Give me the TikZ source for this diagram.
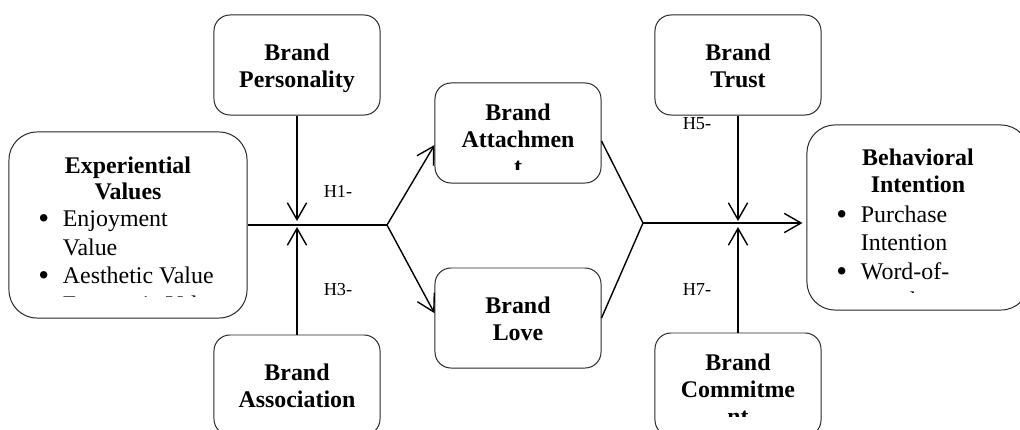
\documentclass[tikz,border=0pt]{standalone}
\usepackage{fontspec}
\setmainfont{Liberation Serif}
\usetikzlibrary{arrows.meta}
\newcommand{\bul}{\makebox[17.5pt][l]{\raisebox{-1.5pt}{\fontsize{22}{20}\selectfont\textbullet}}}
\newcommand{\bulgap}{\hspace*{17.5pt}}

\begin{document}
\begin{tikzpicture}[
  x=0.025cm,y=-0.025cm,
  box/.style={draw=black!85,line width=.7pt,rounded corners=.4cm,minimum width=4.15cm,minimum height=2.5cm,inner sep=0pt},
  bigbox/.style={box,rounded corners=.7cm},
  title/.style={anchor=north,align=center,inner sep=0pt,font=\fontsize{17}{19.2}\selectfont\bfseries},
  items/.style={anchor=north west,align=left,inner sep=0pt,font=\fontsize{17}{20.3}\selectfont},
  hyp/.style={inner sep=0pt,font=\fontsize{13}{15}\selectfont},
  conn/.style={line width=1pt},
  arr/.style={conn,-{Straight Barb[length=.42cm,width=.48cm]}}
]
\useasboundingbox (0,0) rectangle (1020,429);
\clip (0,0) rectangle (1020,429);

% boxes
\node[bigbox,minimum width=5.95cm,minimum height=4.65cm] (exp) at (128,225) {};
\node[box] (pers) at (297,65) {};
\node[box] (assoc) at (297,385) {};
\node[box] (att) at (518,133) {};
\node[box] (love) at (518,318) {};
\node[box] (trust) at (738,65) {};
\node[box,minimum height=2.575cm] (comm) at (738,384.5) {};
\node[bigbox,minimum width=5.55cm,minimum height=4.625cm] (beh) at (918,217.5) {};

% texts; the overflowing ones are cut by the text area
\begin{scope}
  \clip ([yshift=.55cm]exp.south west) rectangle (exp.north east);
  \node[title,font=\fontsize{17}{18.3}\selectfont\bfseries] (exp-t) at (128,156.5) {Experiential\\Values};
  \node[items] (exp-i) at (38,210.5) {\bul Enjoyment\\\bulgap Value\\\bul Aesthetic Value\\\bul Economic Value};
\end{scope}
\node[title] (pers-t) at (297,43.5) {Brand\\Personality};
\node[title] (assoc-t) at (297,363.5) {Brand\\Association};
\begin{scope}
  \clip ([yshift=.35cm]att.south west) rectangle (att.north east);
  \node[title] (att-t) at (518,103.5) {Brand\\Attachmen\\t};
\end{scope}
\node[title] (love-t) at (518,296.5) {Brand\\Love};
\node[title] (trust-t) at (738,43.5) {Brand\\Trust};
\begin{scope}
  \clip ([yshift=.5cm]comm.south west) rectangle (comm.north east);
  \node[title] (comm-t) at (738,353.5) {Brand\\Commitme\\nt};
\end{scope}
\begin{scope}
  \clip ([yshift=.45cm]beh.south west) rectangle (beh.north east);
  \node[title] (beh-t) at (918,148.5) {Behavioral\\Intention};
  \node[items] (beh-i) at (836,205.5) {\bul Purchase\\\bulgap Intention\\\bul Word-of-\\\bulgap mouth};
\end{scope}

% paths
\coordinate (j1) at (387,225);
\coordinate (j2) at (643,223);
\draw[conn] (exp.east) -- (j1);
\draw[arr] (j1) -- ([yshift=-.3cm]att.west);
\draw[arr] (j1) -- ([yshift=.12cm]love.west);
\draw[arr,shorten >=.1cm] (pers.south) -- (pers.south |- j1);
\draw[arr,shorten >=.05cm] (assoc.north) -- (assoc.north |- j1);
\draw[conn] ([yshift=-.2cm]att.east) -- (j2);
\draw[conn] (love.east) -- (j2);
\draw[arr,shorten >=.1cm] (j2) -- (beh.west |- j2);
\draw[arr,shorten >=.05cm] (trust.south) -- (trust.south |- j2);
\draw[arr,shorten >=.1cm] (comm.north) -- (comm.north |- j2);

\node[hyp] (h1) at (338,191) {H1-};
\node[hyp] (h3) at (338,290) {H3-};
\node[hyp] (h5) at (697,124) {H5-};
\node[hyp] (h7) at (697,290) {H7-};
\end{tikzpicture}
\end{document}
